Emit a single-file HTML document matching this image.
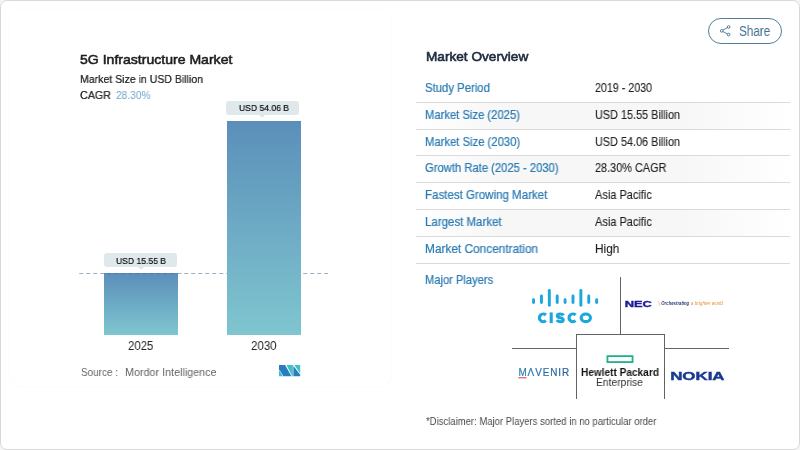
<!DOCTYPE html>
<html lang="en">
<head>
<meta charset="utf-8">
<title>5G Infrastructure Market</title>
<style>
html,body{margin:0;padding:0;width:800px;height:450px;overflow:hidden;background:#f4f4f4;}
body{font-family:"Liberation Sans",sans-serif;position:relative;}
.wrap{position:absolute;left:0;top:0;width:798px;height:448px;border:1px solid #d9d9d9;border-radius:7px;background:#fff;}
.card{position:absolute;left:10px;top:10px;width:381px;height:376px;border-radius:12px;background:#fff;box-shadow:0 0 3px rgba(0,0,0,.035);}
.t{position:absolute;white-space:pre;line-height:1;transform-origin:0 50%;display:block;will-change:transform;}
.bar{position:absolute;background:linear-gradient(180deg,#5b8fba 0%,#7fc6cf 100%);}
.bub{position:absolute;background:#dfe8ea;border-radius:3px;}
.bub:after{content:"";position:absolute;left:50%;bottom:-3px;margin-left:-3px;border-left:3px solid transparent;border-right:3px solid transparent;border-top:3px solid #dfe8ea;}
.sep{position:absolute;left:416px;width:374px;height:1px;background:#dadada;}
.shade{position:absolute;left:416px;width:374px;background:linear-gradient(90deg,#fff 0%,#f7f7f7 22%,#f7f7f7 72%,#fff 100%);}
.share{position:absolute;left:707.5px;top:18px;width:72px;height:24px;border:1px solid #4f7f99;border-radius:14px;background:#fff;}
.ln{position:absolute;background:#636363;}
svg{position:absolute;overflow:visible;will-change:transform;}
</style>
</head>
<body>
<div class="wrap"></div>
<div class="card"></div>

<!-- chart -->
<div class="bar" style="left:104px;top:273px;width:74px;height:61.7px;"></div>
<svg style="left:0;top:0" width="400" height="300"><line x1="79.2" y1="273.5" x2="328" y2="273.5" stroke="#3a6688" stroke-opacity=".5" stroke-width="1" stroke-dasharray="4.1 2.9"/></svg>
<div class="bar" style="left:227.2px;top:120.5px;width:73.8px;height:214.2px;"></div>
<div class="bub" style="left:226.3px;top:101px;width:72.4px;height:13.5px;"></div>
<div class="bub" style="left:104px;top:253.4px;width:73px;height:13.2px;"></div>

<!-- mordor logo -->
<svg style="left:278.9px;top:364.7px" width="21.2" height="11.2" viewBox="0 0 21.2 11.2">
<polygon points="0,0 6.1,0 12.5,11.2 4.5,11.2 0,4.3" fill="#2a7dbd"/>
<polygon points="0,5.1 0,11.2 4.0,11.2" fill="#3fbcc8"/>
<polygon points="7.5,0 13.9,0 13.9,11.2 13.2,11.2" fill="#3fc1c9"/>
<polygon points="14.4,0.8 14.4,11.2 21.2,11.2 21.2,9.8" fill="#2a7dbd"/>
<polygon points="15.3,0 21.2,0 21.2,8.4" fill="#3fc1c9"/>
</svg>

<div class="sep" style="top:101.80px"></div>
<div class="sep" style="top:128.62px"></div>
<div class="sep" style="top:155.44px"></div>
<div class="sep" style="top:182.26px"></div>
<div class="sep" style="top:209.08px"></div>
<div class="sep" style="top:235.90px"></div>
<div class="sep" style="top:262.72px"></div>
<div class="shade" style="top:102.80px;height:25.80px"></div>
<div class="shade" style="top:156.44px;height:25.80px"></div>
<div class="shade" style="top:210.08px;height:25.80px"></div>

<!-- share -->
<div class="share"></div>
<svg style="left:719px;top:24px" width="13" height="14" viewBox="0 0 13 14" fill="none" stroke="#3f6f8c" stroke-width=".9">
<circle cx="9.6" cy="3" r="1.35"/><circle cx="2.7" cy="6.85" r="1.35"/><circle cx="9.6" cy="10.6" r="1.35"/>
<path d="M3.95 6.15 L8.35 3.7 M3.95 7.55 L8.35 9.9"/>
</svg>

<!-- players grid -->
<div class="ln" style="left:620px;top:277px;width:1px;height:57px;"></div>
<div class="ln" style="left:512px;top:347.6px;width:64.5px;height:1px;"></div>
<div class="ln" style="left:664.4px;top:347.6px;width:65px;height:1px;"></div>
<div class="ln" style="left:576px;top:333.7px;width:89px;height:1px;"></div>
<div class="ln" style="left:576px;top:333.7px;width:1px;height:65px;"></div>
<div class="ln" style="left:664.2px;top:333.7px;width:1px;height:65px;"></div>

<!-- cisco -->
<svg style="left:520px;top:275px" width="100" height="56" viewBox="0 0 100 56" fill="none">
<g stroke="#1ba6dc" stroke-width="2.9" stroke-linecap="round">
<path d="M13.55 24.75V27.45"/><path d="M21.44 21.05V27.45"/><path d="M29.32 15.55V30.25"/><path d="M37.21 21.05V27.45"/><path d="M45.09 24.75V27.45"/><path d="M52.98 21.05V27.45"/><path d="M60.87 15.55V30.25"/><path d="M68.75 21.05V27.45"/><path d="M76.64 24.75V27.45"/>
</g>
<g stroke="#1ba6dc" stroke-width="3.1" stroke-linecap="butt">
<path d="M25.9 40.0A3.85 3.85 0 1 0 25.9 45.6"/>
<path d="M31.2 37.4V48.2"/>
<path d="M43.6 40.3C42.6 38.7 37.4 38.2 37.3 40.9C37.2 43.5 43.3 42.2 43.2 44.9C43.1 47.5 38.1 47.1 36.7 45.2"/>
<path d="M55.5 40.0A3.85 3.85 0 1 0 55.5 45.6"/>
<ellipse cx="65.8" cy="42.8" rx="4.65" ry="3.85"/>
</g>
</svg>

<!-- nec -->
<svg style="left:620px;top:290px" width="110" height="28" viewBox="0 0 110 28">
<text x="4.7" y="16.7" font-family="Liberation Sans" font-weight="700" font-size="8.8" fill="#1a1a9a" stroke="#1a1a9a" stroke-width=".35" textLength="27.2" lengthAdjust="spacingAndGlyphs">NEC</text>
<path d="M38.4 11.2 L40.2 15.8" stroke="#e8903a" stroke-width=".5"/>
<text x="41.3" y="15.4" font-family="Liberation Sans" font-style="italic" font-weight="700" font-size="5.1" fill="#2a3a78" textLength="27.9" lengthAdjust="spacingAndGlyphs">Orchestrating</text>
<text x="70.8" y="15.4" font-family="Liberation Sans" font-style="italic" font-size="5.1" fill="#e8903a" textLength="32.1" lengthAdjust="spacingAndGlyphs">a brighter world</text>
</svg>

<!-- mavenir -->
<svg style="left:505px;top:355px" width="80" height="40" viewBox="0 0 80 40">
<defs><linearGradient id="mv" x1="0" x2="1" y1="0" y2="0"><stop offset="0" stop-color="#2c82b4"/><stop offset="1" stop-color="#2b5f9c"/></linearGradient></defs>
<text transform="translate(0,21.1) scale(1,1.09) translate(0,-21.1)" x="13.4" y="21.1" font-family="Liberation Sans" font-size="9.9" fill="url(#mv)" stroke="url(#mv)" stroke-width=".2" textLength="50.8" lengthAdjust="spacing">MΛVENIR</text>
<path d="M13.3 22.8H21.5" stroke="#d8345a" stroke-width="1"/>
</svg>

<!-- hpe -->
<svg style="left:600px;top:350px" width="40" height="20" viewBox="0 0 40 20"><rect x="7.45" y="6.15" width="25.1" height="5.9" fill="none" stroke="#1fb08b" stroke-width="1.8"/></svg>

<!-- nokia -->
<svg style="left:660px;top:340px" width="80" height="60" viewBox="0 0 80 60">
<text x="10.2" y="40.3" font-family="Liberation Sans" font-weight="700" font-size="11.2" fill="#183a8f" textLength="54.4" lengthAdjust="spacingAndGlyphs" stroke="#183a8f" stroke-width=".4">NOKIA</text>
</svg>

<span class="t" style="left:80.10px;top:53.39px;font-size:13.6px;color:#1c1c1c;transform:scaleX(1.0344);-webkit-text-stroke:.55px #1c1c1c;">5G Infrastructure Market</span>
<span class="t" style="left:80.30px;top:74.09px;font-size:11px;color:#303030;transform:scaleX(0.9581);text-shadow:0 0 .3px #303030;">Market Size in USD Billion</span>
<span class="t" style="left:80.30px;top:89.99px;font-size:11px;color:#303030;transform:scaleX(0.9754);text-shadow:0 0 .3px #303030;">CAGR</span>
<span class="t" style="left:116.00px;top:89.89px;font-size:11px;color:#6ea6c9;transform:scaleX(0.9273);">28.30%</span>
<span class="t" style="left:238.50px;top:103.26px;font-size:9.5px;color:#1f242a;transform:scaleX(0.9017);text-shadow:0 0 .4px #1f242a;">USD 54.06 B</span>
<span class="t" style="left:115.60px;top:255.71px;font-size:9.5px;color:#1f242a;transform:scaleX(0.9017);text-shadow:0 0 .4px #1f242a;">USD 15.55 B</span>
<span class="t" style="left:128.40px;top:340.42px;font-size:12.5px;color:#222;transform:scaleX(0.9097);">2025</span>
<span class="t" style="left:251.25px;top:340.42px;font-size:12.5px;color:#222;transform:scaleX(0.9204);">2030</span>
<span class="t" style="left:81.40px;top:366.69px;font-size:11px;color:#636363;transform:scaleX(0.9031);">Source :</span>
<span class="t" style="left:124.50px;top:366.69px;font-size:11px;color:#636363;transform:scaleX(0.9780);">Mordor Intelligence</span>
<span class="t" style="left:425.75px;top:49.89px;font-size:13.6px;color:#1b2a3d;transform:scaleX(1.0026);-webkit-text-stroke:.6px #1b2a3d;">Market Overview</span>
<span class="t" style="left:425.20px;top:83.03px;font-size:11.9px;color:#2b7bb3;transform:scaleX(0.9531);-webkit-text-stroke:.22px #2b7bb3;">Study Period</span>
<span class="t" style="left:595.00px;top:83.03px;font-size:11.9px;color:#1e1e1e;transform:scaleX(0.8994);-webkit-text-stroke:.1px #1e1e1e;">2019 - 2030</span>
<span class="t" style="left:425.20px;top:109.85px;font-size:11.9px;color:#2b7bb3;transform:scaleX(0.9442);-webkit-text-stroke:.22px #2b7bb3;">Market Size (2025)</span>
<span class="t" style="left:595.00px;top:109.85px;font-size:11.9px;color:#1e1e1e;transform:scaleX(0.9131);-webkit-text-stroke:.1px #1e1e1e;">USD 15.55 Billion</span>
<span class="t" style="left:425.20px;top:136.67px;font-size:11.9px;color:#2b7bb3;transform:scaleX(0.9467);-webkit-text-stroke:.22px #2b7bb3;">Market Size (2030)</span>
<span class="t" style="left:595.00px;top:136.67px;font-size:11.9px;color:#1e1e1e;transform:scaleX(0.9131);-webkit-text-stroke:.1px #1e1e1e;">USD 54.06 Billion</span>
<span class="t" style="left:425.20px;top:163.49px;font-size:11.9px;color:#2b7bb3;transform:scaleX(0.9445);-webkit-text-stroke:.22px #2b7bb3;">Growth Rate (2025 - 2030)</span>
<span class="t" style="left:595.00px;top:163.49px;font-size:11.9px;color:#1e1e1e;transform:scaleX(0.9147);-webkit-text-stroke:.1px #1e1e1e;">28.30% CAGR</span>
<span class="t" style="left:425.20px;top:190.31px;font-size:11.9px;color:#2b7bb3;transform:scaleX(0.9693);-webkit-text-stroke:.22px #2b7bb3;">Fastest Growing Market</span>
<span class="t" style="left:595.00px;top:190.31px;font-size:11.9px;color:#1e1e1e;transform:scaleX(0.9249);-webkit-text-stroke:.1px #1e1e1e;">Asia Pacific</span>
<span class="t" style="left:425.20px;top:217.13px;font-size:11.9px;color:#2b7bb3;transform:scaleX(0.9658);-webkit-text-stroke:.22px #2b7bb3;">Largest Market</span>
<span class="t" style="left:595.00px;top:217.13px;font-size:11.9px;color:#1e1e1e;transform:scaleX(0.9249);-webkit-text-stroke:.1px #1e1e1e;">Asia Pacific</span>
<span class="t" style="left:425.20px;top:243.95px;font-size:11.9px;color:#2b7bb3;transform:scaleX(0.9948);-webkit-text-stroke:.22px #2b7bb3;">Market Concentration</span>
<span class="t" style="left:595.00px;top:243.95px;font-size:11.9px;color:#1e1e1e;transform:scaleX(0.9951);-webkit-text-stroke:.1px #1e1e1e;">High</span>
<span class="t" style="left:425.20px;top:274.93px;font-size:11.9px;color:#2b7bb3;transform:scaleX(0.9369);-webkit-text-stroke:.22px #2b7bb3;">Major Players</span>
<span class="t" style="left:425.70px;top:415.61px;font-size:10.5px;color:#4a4a4a;transform:scaleX(0.9055);">*Disclaimer: Major Players sorted in no particular order</span>
<span class="t" style="left:738.80px;top:24.92px;font-size:13.8px;color:#3f6f8c;transform:scaleX(0.8472);">Share</span>
<span class="t" style="left:580.60px;top:368.10px;font-size:10.4px;font-weight:700;color:#151515;transform:scaleX(0.9703);">Hewlett Packard</span>
<span class="t" style="left:596.30px;top:376.79px;font-size:11px;color:#333;transform:scaleX(0.9354);">Enterprise</span>
</body>
</html>
